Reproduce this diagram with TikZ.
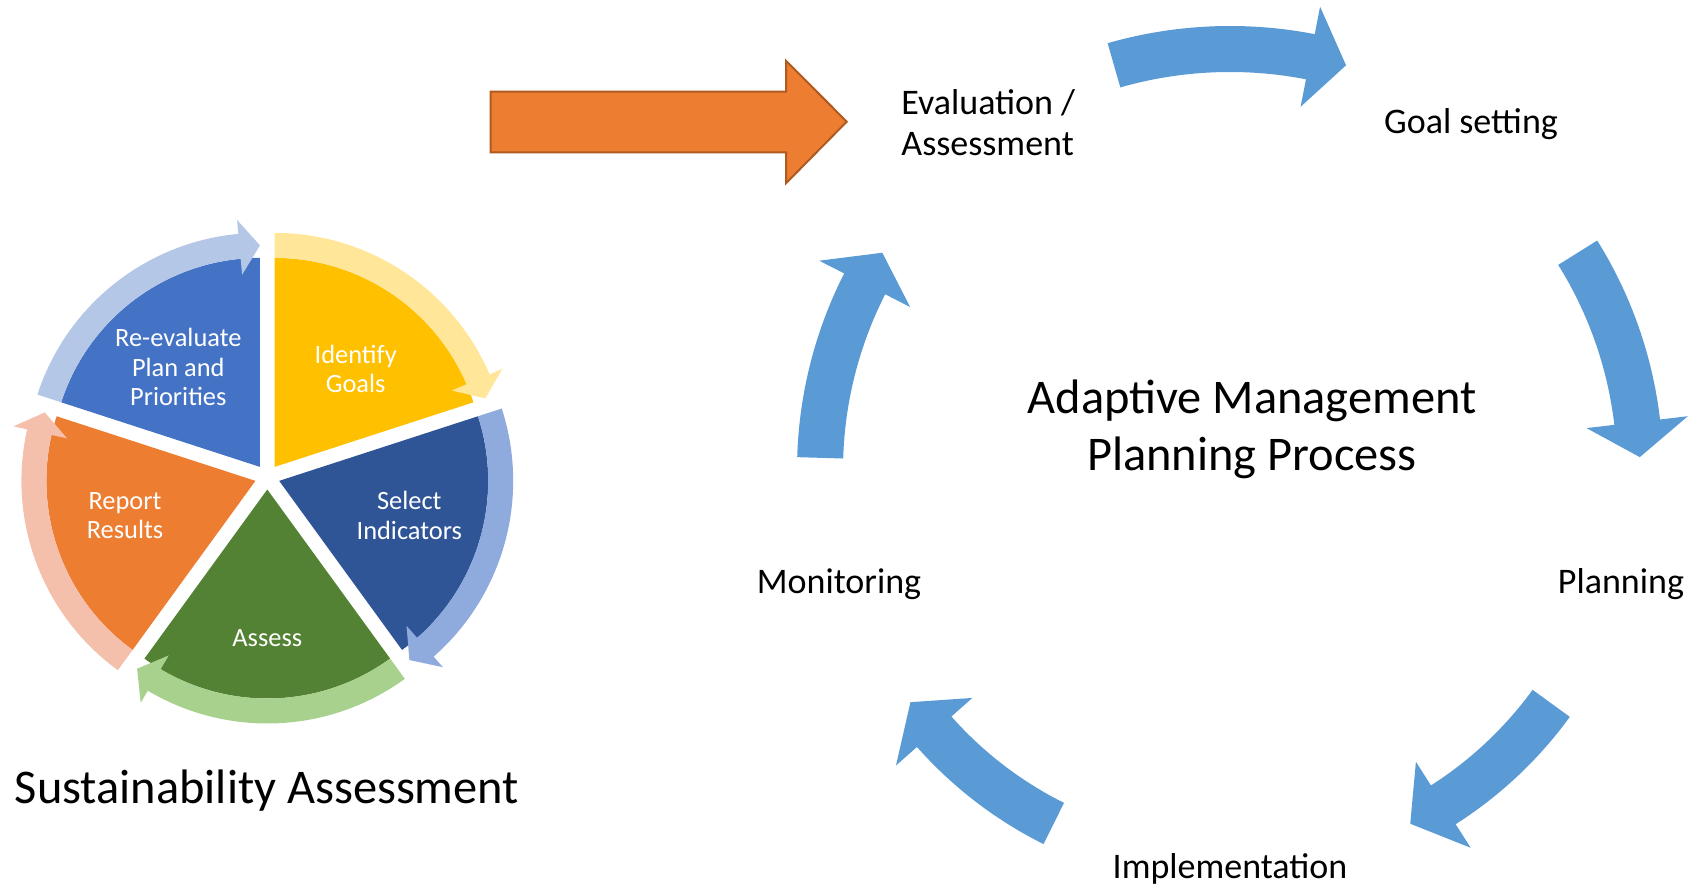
\documentclass[tikz,border=0pt]{standalone}
\usepackage{fontspec}
\setmainfont{Carlito}
\usepackage{tikz}

\definecolor{cycleblue}{HTML}{5B9BD5}
\definecolor{bigorange}{HTML}{ED7D31}
\definecolor{bigedge}{HTML}{AE5A21}
\definecolor{revblue}{HTML}{4472C4}
\definecolor{revband}{HTML}{B4C7E7}
\definecolor{goalyellow}{HTML}{FFC000}
\definecolor{goalband}{HTML}{FFE699}
\definecolor{selectblue}{HTML}{2F5597}
\definecolor{selectband}{HTML}{8FAADC}
\definecolor{assessgreen}{HTML}{548235}
\definecolor{assessband}{HTML}{A9D18E}
\definecolor{reportorange}{HTML}{ED7D31}
\definecolor{reportband}{HTML}{F4C0AC}

% curved block arrow round the planning cycle: start, end, tip angle, radius
\newcommand{\cyclearrow}[4]{%
  \fill[cycleblue] ({#1}:{#4+23}) arc[start angle=#1, end angle=#2, radius=#4+23]
    -- ({#2}:{#4+51}) -- ({#3}:{#4}) -- ({#2}:{#4-51}) -- ({#2}:{#4-23})
    arc[start angle=#2, end angle=#1, radius=#4-23] -- cycle;}

\begin{document}
\begin{tikzpicture}[x=0.5pt,y=0.5pt,
    pielabel/.style={text=white, align=center, inner sep=0pt, font=\fontsize{13.2}{14.6}\selectfont},
    steplabel/.style={inner sep=0pt, font=\fontsize{18}{20.5}\selectfont},
    biglabel/.style={inner sep=0pt, align=center, font=\fontsize{24.2}{28.5}\selectfont}]
  \useasboundingbox (0,0) rectangle (1703,884);

  \foreach \a/\main/\band in {18/goalyellow/goalband, 90/revblue/revband,
      162/reportorange/reportband, 234/assessgreen/assessband, 306/selectblue/selectband} {
    \begin{scope}[shift={(267.3,407)}, shift={({\a+36}:12.5)}]
      \fill[\main] (0,0) -- ({\a}:209) arc[start angle=\a, end angle=\a+72, radius=209] -- cycle;
      \fill[\band] ({\a+72}:209) arc[start angle=\a+72, end angle=\a+5.3, radius=209]
        -- ({\a+5.3}:193) -- ({\a}:221.5) -- ({\a+5.3}:248) -- ({\a+5.3}:234)
        arc[start angle=\a+5.3, end angle=\a+72, radius=234] -- cycle;
    \end{scope}
  }

  \node[pielabel] (reeval) at (178.3,517) {Re-evaluate\\Plan and\\Priorities};
  \node[pielabel] (identify) at (355.7,515) {Identify\\Goals};
  \node[pielabel] (select) at (409.3,368.5) {Select\\Indicators};
  \node[pielabel] (report) at (125,368.5) {Report\\Results};
  \node[pielabel, anchor=base] (assess) at (267.3,237) {Assess};
  \node[biglabel, anchor=base] (sustain) at (267,81) {Sustainability Assessment};

  \filldraw[fill=bigorange, draw=bigedge, line width=1pt]
    (490.7,731.7) -- (490.7,792.3) -- (786,792.3) -- (786,823.3)
    -- (846.7,762.3) -- (786,700.7) -- (786,731.7) -- cycle;

  \begin{scope}[shift={(1230,414)}]
    \cyclearrow{106}{79}{74}{421}
    \cyclearrow{32}{6.7}{1.8}{410}
    \cyclearrow{-36}{-57.5}{-63}{397}
    \cyclearrow{243.5}{221.5}{216}{395}
    \cyclearrow{178.3}{153}{148}{410}
  \end{scope}

  \node[steplabel, anchor=west, align=left] (evaluation) at (901,761) {Evaluation /\\Assessment};
  \node[steplabel, anchor=base] (goal) at (1471,750) {Goal setting};
  \node[steplabel, anchor=base] (planning) at (1621,290) {Planning};
  \node[steplabel, anchor=base] (implement) at (1230,6) {Implementation};
  \node[steplabel, anchor=base] (monitor) at (839,290) {Monitoring};
  \node[biglabel] (title) at (1252,455) {Adaptive Management\\Planning Process};
\end{tikzpicture}
\end{document}
